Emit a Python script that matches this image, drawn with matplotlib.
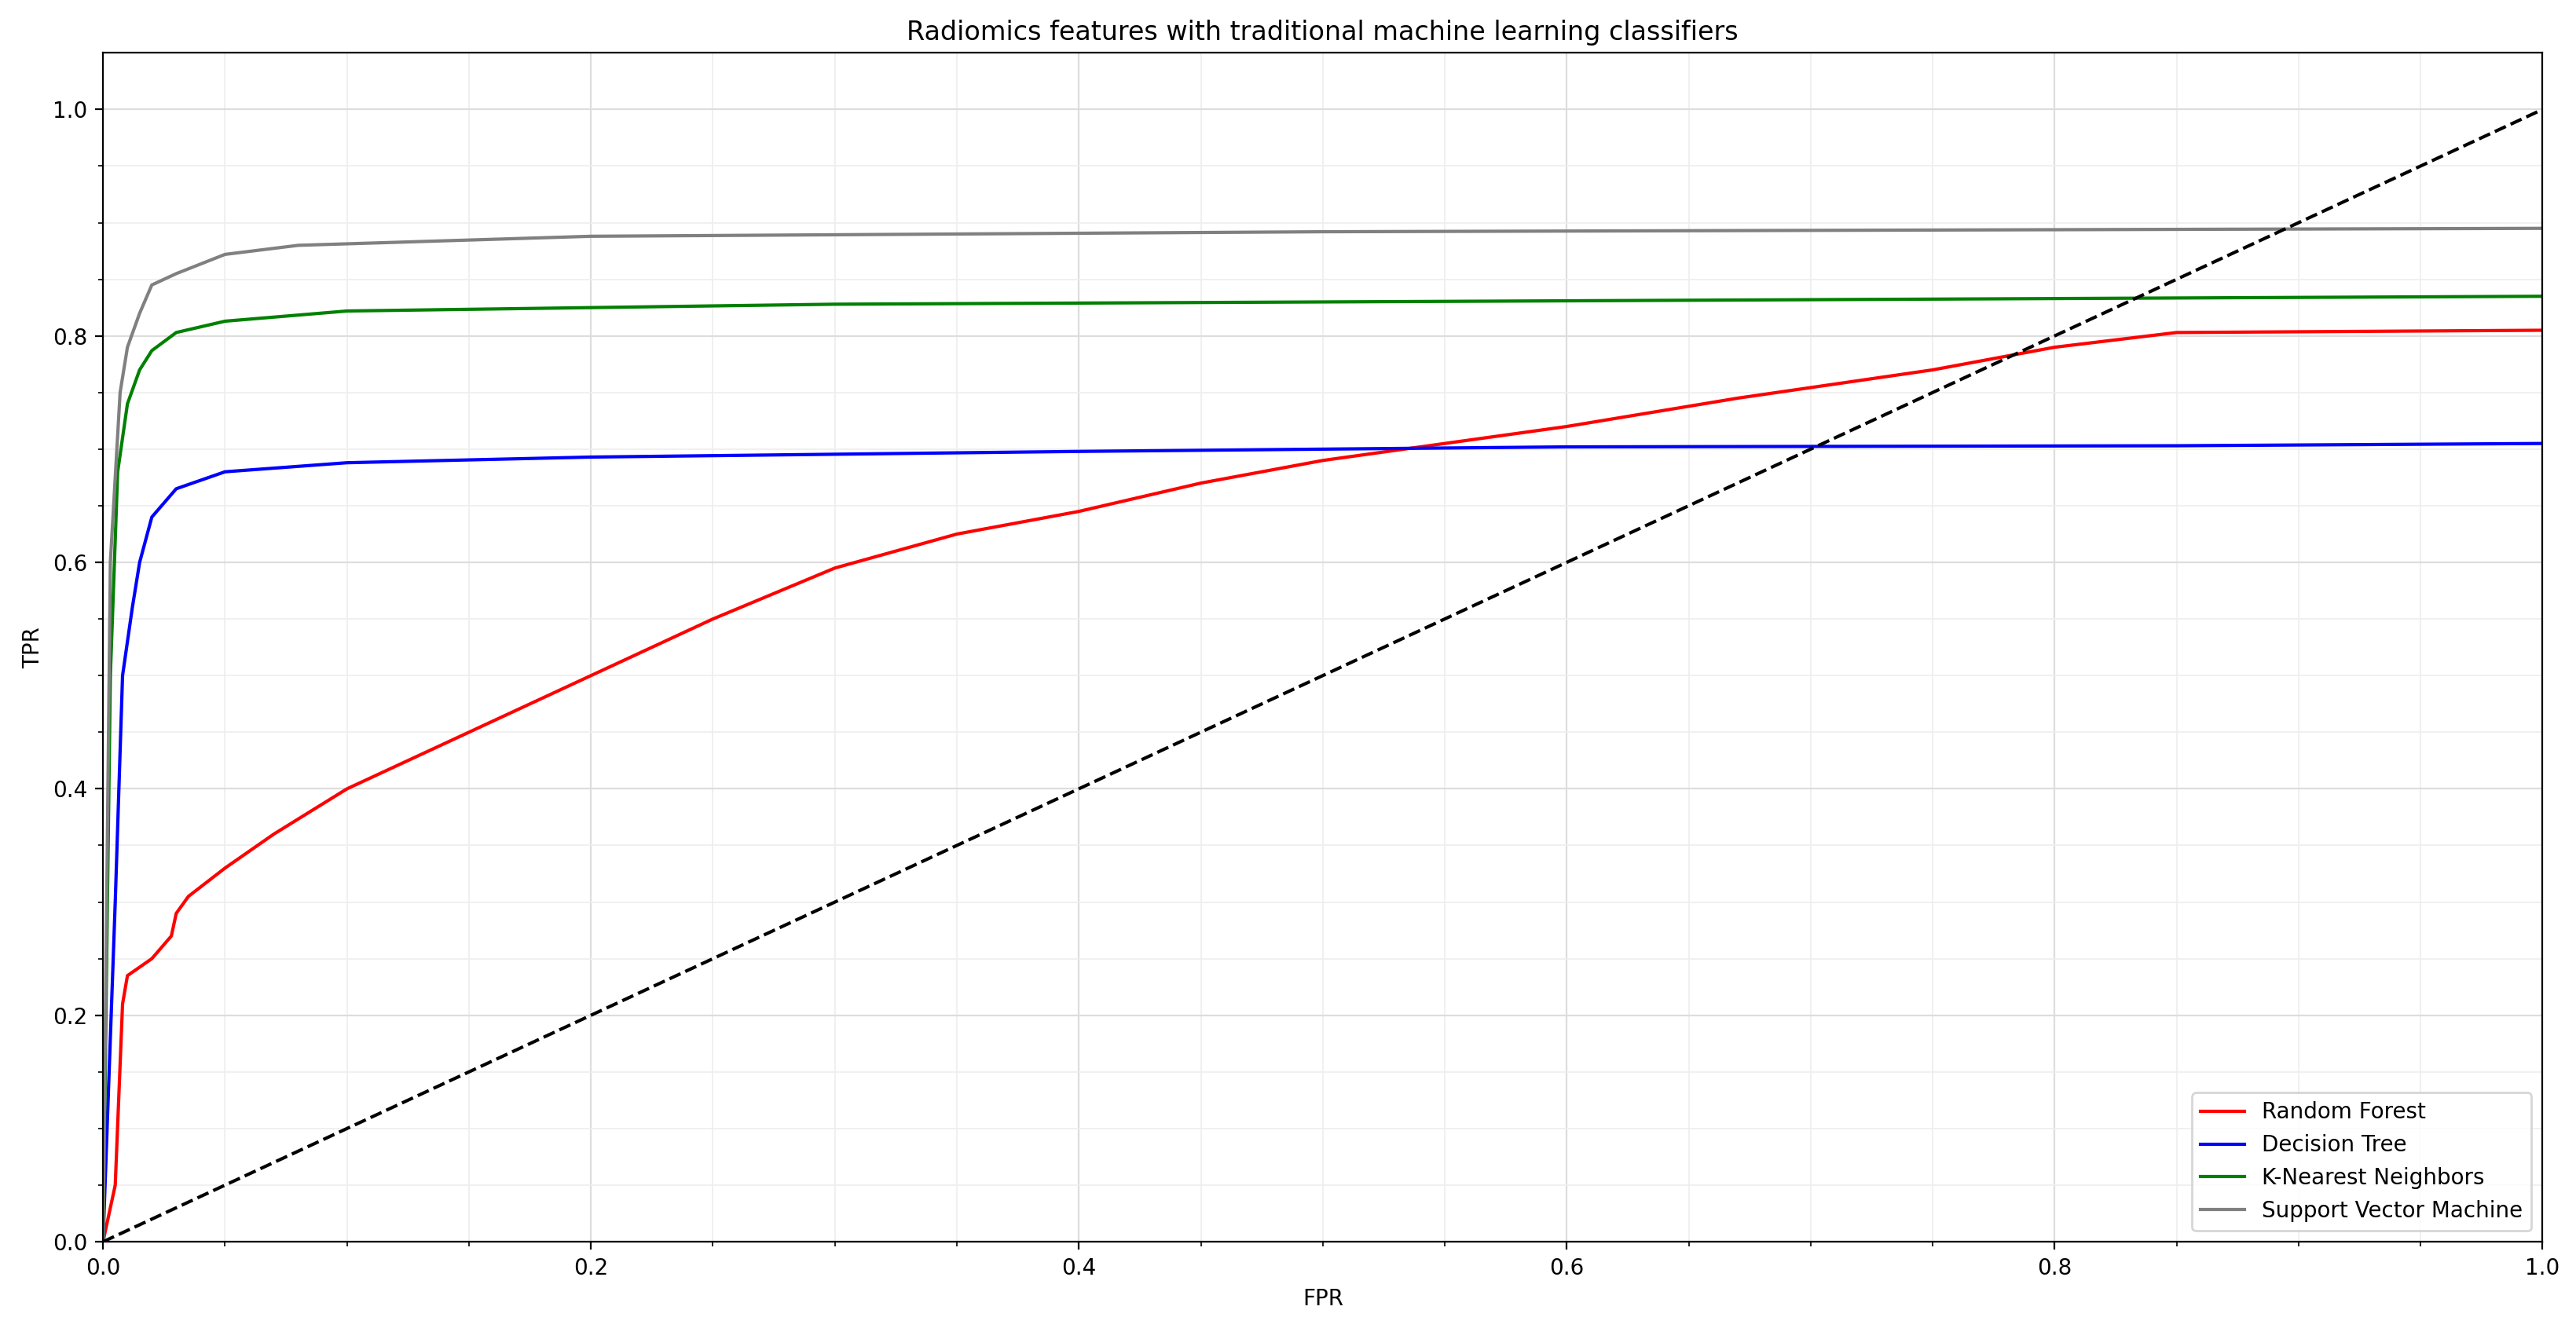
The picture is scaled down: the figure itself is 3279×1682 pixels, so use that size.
import matplotlib.pyplot as plt
import numpy as np

# ROC points
rf_fpr = [0, 0.005, 0.008, 0.01, 0.02, 0.028, 0.03, 0.035, 0.05, 0.07, 0.1, 0.15, 0.2, 0.25,
          0.3, 0.35, 0.4, 0.45, 0.5, 0.55, 0.6, 0.67, 0.75, 0.8, 0.85, 1.0]
rf_tpr = [0, 0.05, 0.21, 0.235, 0.25, 0.27, 0.29, 0.305, 0.33, 0.36, 0.40, 0.45, 0.5, 0.55,
          0.595, 0.625, 0.645, 0.67, 0.69, 0.705, 0.72, 0.745, 0.77, 0.79, 0.803, 0.805]
dt_fpr = [0, 0.005, 0.008, 0.012, 0.015, 0.02, 0.03, 0.05, 0.1, 0.2, 0.4, 0.6, 0.85, 1.0]
dt_tpr = [0, 0.3, 0.5, 0.56, 0.6, 0.64, 0.665, 0.68, 0.688, 0.693, 0.698, 0.702, 0.703, 0.705]
knn_fpr = [0, 0.003, 0.006, 0.01, 0.015, 0.02, 0.03, 0.05, 0.1, 0.3, 0.6, 1.0]
knn_tpr = [0, 0.5, 0.68, 0.74, 0.77, 0.787, 0.803, 0.813, 0.822, 0.828, 0.831, 0.835]
svm_fpr = [0, 0.003, 0.007, 0.01, 0.015, 0.02, 0.03, 0.05, 0.08, 0.2, 0.5, 1.0]
svm_tpr = [0, 0.6, 0.75, 0.79, 0.82, 0.845, 0.855, 0.872, 0.88, 0.888, 0.892, 0.895]

fig = plt.figure(figsize=(16.395, 8.41), dpi=200)
ax = fig.add_axes([0.04, 0.06, 0.947, 0.9])

ax.plot(rf_fpr, rf_tpr, color="red", label="Random Forest")
ax.plot(dt_fpr, dt_tpr, color="blue", label="Decision Tree")
ax.plot(knn_fpr, knn_tpr, color="green", label="K-Nearest Neighbors")
ax.plot(svm_fpr, svm_tpr, color="gray", label="Support Vector Machine")
ax.plot([0, 1], [0, 1], "k--")

ax.set_xlim(0, 1)
ax.set_ylim(0, 1.05)
ax.minorticks_on()
ax.set_xticks(np.arange(0, 1.0001, 0.05), minor=True)
ax.set_yticks(np.arange(0, 1.05, 0.05), minor=True)
ax.grid(which="major", color="#dddddd", linewidth=0.8)
ax.grid(which="minor", color="#eeeeee", linewidth=0.6)
ax.set_xlabel("FPR")
ax.set_ylabel("TPR")
ax.set_title("Radiomics features with traditional machine learning classifiers")
ax.legend(loc="lower right")
fig.savefig("out.png")
